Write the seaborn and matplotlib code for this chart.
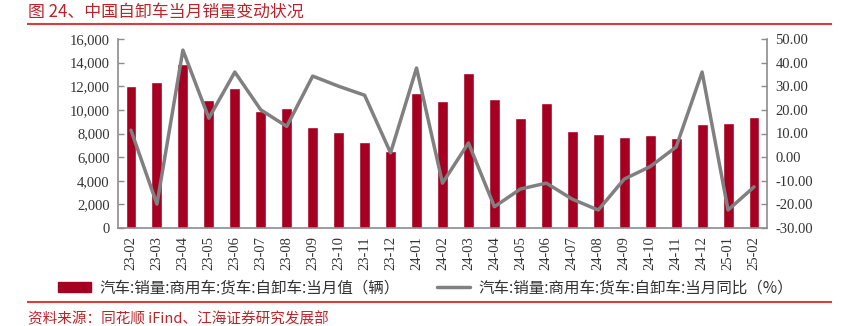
import numpy as np
import pandas as pd
import matplotlib
matplotlib.use("Agg")
import matplotlib.pyplot as plt
import seaborn as sns
from matplotlib.patches import Patch
from matplotlib.lines import Line2D

months = ["23-02", "23-03", "23-04", "23-05", "23-06", "23-07", "23-08", "23-09",
          "23-10", "23-11", "23-12", "24-01", "24-02", "24-03", "24-04", "24-05",
          "24-06", "24-07", "24-08", "24-09", "24-10", "24-11", "24-12", "25-01", "25-02"]
sales = [12000, 12400, 13900, 10800, 11850, 9900, 10150, 8550,
         8150, 7300, 6500, 11450, 10750, 13100, 10900, 9350,
         10550, 8200, 7950, 7700, 7850, 7650, 8800, 8850, 9400]
yoy = [11.4, -19.9, 45.3, 16.5, 36.0, 20.0, 13.0, 34.3,
       30.0, 26.2, 1.8, 37.7, -11.0, 6.0, -21.0, -13.5,
       -11.0, -17.8, -22.4, -9.3, -4.0, 4.3, 36.0, -22.4, -12.6]
left_ticks = [0, 2000, 4000, 6000, 8000, 10000, 12000, 14000, 16000]
right_ticks = [-30, -20, -10, 0, 10, 20, 30, 40, 50]

title = "图 24、中国自卸车当月销量变动状况"
bar_label = "汽车:销量:商用车:货车:自卸车:当月值（辆）"
line_label = "汽车:销量:商用车:货车:自卸车:当月同比（%）"
source = "资料来源：同花顺 iFind、江海证券研究发展部"

BAR_C = "#A50021"
LINE_C = "#808080"
RED = "#DC3C3C"
TITLE_C = "#B8262B"
AXIS_C = "#8C8C8C"
TXT = "#333333"

sns.set_theme(style="white")
plt.rcParams["font.family"] = ["Liberation Serif", "Noto Sans CJK SC", "DejaVu Sans"]
cjk = ["Noto Sans CJK SC", "DejaVu Sans"]

df = pd.DataFrame({"month": months, "sales": sales, "yoy": yoy})

W, H = 851, 326
fig = plt.figure(figsize=(W / 100, H / 100), dpi=100)

ax = fig.add_axes([118 / W, 1 - 228 / H, (767 - 118) / W, (228 - 39) / H])
sns.barplot(data=df, x="month", y="sales", color=BAR_C, width=0.42, ax=ax,
            saturation=1)
ax.set_xlim(-0.5, len(months) - 0.5)
ax.set_ylim(0, 16000)
ax.set_yticks(left_ticks)
ax.set_yticklabels([f"{v:,}" for v in left_ticks], fontsize=10.5, color=TXT)
ax.set_xlabel("")
ax.set_ylabel("")
ax.set_xticks(range(len(months)))
ax.set_xticklabels(months, rotation=90, fontsize=10.5, color=TXT,
                   family=["Liberation Serif"])
ax.tick_params(axis="x", length=0, pad=6)
ax.set_xticks(np.arange(-0.5, len(months), 1.0), minor=True)
ax.tick_params(axis="x", which="minor", direction="in", length=4, color=AXIS_C, width=1)
ax.tick_params(axis="y", direction="in", length=4, color=AXIS_C, width=1, pad=6)

ax2 = ax.twinx()
sns.lineplot(x=np.arange(len(months)), y=df["yoy"].values, color=LINE_C, linewidth=2.5,
             ax=ax2)
ax2.set_ylim(-30, 50)
ax2.set_yticks(right_ticks)
ax2.set_yticklabels([f"{v:.2f}" for v in right_ticks], fontsize=10.5, color=TXT)
ax2.tick_params(axis="y", direction="in", length=4, color=AXIS_C, width=1, pad=6)
ax2.set_xlim(-0.5, len(months) - 0.5)

for a in (ax, ax2):
    a.spines["top"].set_visible(False)
    for s in ("left", "right", "bottom"):
        a.spines[s].set_color(AXIS_C)
        a.spines[s].set_linewidth(1.2)
ax.spines["right"].set_visible(False)
ax2.spines["left"].set_visible(False)
ax2.spines["bottom"].set_visible(False)

handles = [Patch(facecolor=BAR_C, edgecolor=BAR_C),
           Line2D([0], [0], color=LINE_C, linewidth=2.5)]
leg = fig.legend(handles, [bar_label, line_label], loc="center",
                 bbox_to_anchor=(0.5, 1 - 288 / H), ncol=2, frameon=False,
                 prop={"family": cjk, "size": 11.2}, handlelength=2.1,
                 handleheight=0.55, columnspacing=2.4, handletextpad=0.55)
for t in leg.get_texts():
    t.set_color(TXT)

# overlay axes (created last, on top) in pixel coordinates for title, rules, source
bg = fig.add_axes([0, 0, 1, 1], zorder=10)
bg.patch.set_visible(False)
bg.set_xlim(0, W)
bg.set_ylim(H, 0)
bg.set_axis_off()
bg.plot([27, 832], [24, 24], color=RED, linewidth=1.5, solid_capstyle="butt")
bg.plot([27, 832], [302, 302], color=RED, linewidth=1.5, solid_capstyle="butt")
bg.text(28, 12, title, color=TITLE_C, fontsize=12.2, va="center", ha="left", family=cjk)
bg.text(28, 319, source, color=TITLE_C, fontsize=10.5, va="center", ha="left", family=cjk)

fig.savefig("out.png", dpi=100)
